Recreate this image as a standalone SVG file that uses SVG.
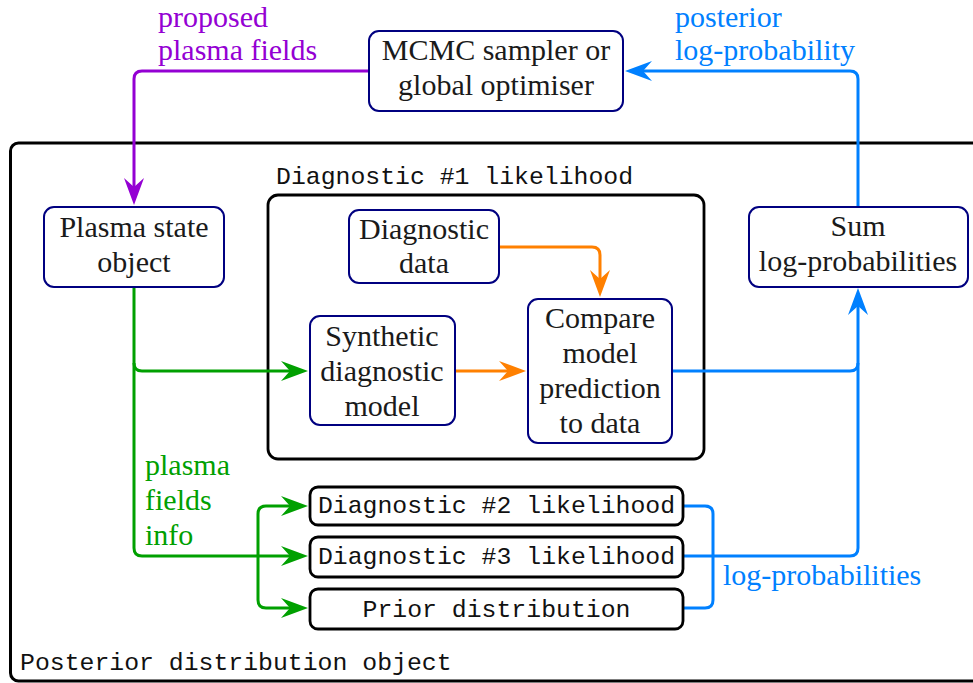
<svg xmlns="http://www.w3.org/2000/svg" width="973" height="683" viewBox="0 0 973 683">
<style>
.node{fill:#fff;stroke:#000080;stroke-width:2}
.box{fill:#fff;stroke:#000;stroke-width:2.8}
.t{font-size:30px;fill:#1a1a1a;text-anchor:middle}
.m{font-family:"Liberation Mono",monospace;font-size:24.8px;fill:#111}
.lbl{font-size:30px}
.c{fill:none;stroke-width:3;stroke-linejoin:round}
</style>
<defs>
<marker id="aP" markerUnits="userSpaceOnUse" orient="auto" refX="0" refY="0" markerWidth="40" markerHeight="40" overflow="visible"><path d="M8,0 L-19,-10 L-10,0 L-19,10 Z" fill="#9400D3"/></marker>
<marker id="aB" markerUnits="userSpaceOnUse" orient="auto" refX="0" refY="0" markerWidth="40" markerHeight="40" overflow="visible"><path d="M8,0 L-19,-10 L-10,0 L-19,10 Z" fill="#0080FF"/></marker>
<marker id="aO" markerUnits="userSpaceOnUse" orient="auto" refX="0" refY="0" markerWidth="40" markerHeight="40" overflow="visible"><path d="M8,0 L-19,-10 L-10,0 L-19,10 Z" fill="#FF8000"/></marker>
<marker id="aG" markerUnits="userSpaceOnUse" orient="auto" refX="0" refY="0" markerWidth="40" markerHeight="40" overflow="visible"><path d="M8,0 L-19,-10 L-10,0 L-19,10 Z" fill="#00A000"/></marker>
</defs>
<rect width="973" height="683" fill="#fff"/>

<g id="posterior">
<rect x="10.5" y="143" width="1000" height="538" rx="8" fill="none" stroke="#000" stroke-width="3"/>
<text class="m" x="20" y="670">Posterior distribution object</text>
</g>

<g id="diag1">
<rect class="box" x="268" y="195" width="436" height="264" rx="10"/>
<text class="m" x="276" y="184">Diagnostic #1 likelihood</text>
</g>

<g id="connectors">
<path class="c" stroke="#9400D3" d="M369,71 H142 Q134,71 134,79 V197" marker-end="url(#aP)"/>
<path class="c" stroke="#0080FF" d="M858,207 V79 Q858,71 850,71 H633" marker-end="url(#aB)"/>
<path class="c" stroke="#0080FF" d="M672,371 H850 Q858,371 858,363"/>
<path class="c" stroke="#0080FF" d="M683,556 H850 Q858,556 858,548 V296" marker-end="url(#aB)"/>
<path class="c" stroke="#0080FF" d="M683,506 H705 Q713,506 713,514 V600 Q713,608 705,608 H683"/>
<path class="c" stroke="#FF8000" d="M499,247 H592 Q600,247 600,255 V289" marker-end="url(#aO)"/>
<path class="c" stroke="#FF8000" d="M455,371 H518" marker-end="url(#aO)"/>
<path class="c" stroke="#00A000" d="M134,287 V548 Q134,556 142,556 H300" marker-end="url(#aG)"/>
<path class="c" stroke="#00A000" d="M134,363 Q134,371 142,371 H300" marker-end="url(#aG)"/>
<path class="c" stroke="#00A000" d="M258,556 V514 Q258,506 266,506 H300" marker-end="url(#aG)"/>
<path class="c" stroke="#00A000" d="M258,556 V600 Q258,608 266,608 H300" marker-end="url(#aG)"/>
<g font-family="Liberation Serif, serif">
<text class="lbl" fill="#9400D3" x="158" y="27">proposed</text>
<text class="lbl" fill="#9400D3" x="158" y="60">plasma fields</text>
<text class="lbl" fill="#0080FF" x="675" y="27">posterior</text>
<text class="lbl" fill="#0080FF" x="675" y="60">log-probability</text>
<text class="lbl" fill="#00A000" x="145" y="475">plasma</text>
<text class="lbl" fill="#00A000" x="145" y="510">fields</text>
<text class="lbl" fill="#00A000" x="145" y="545">info</text>
<text class="lbl" fill="#0080FF" x="723" y="585">log-probabilities</text>
</g>
</g>

<g id="mcmc" font-family="Liberation Serif, serif">
<rect class="node" x="369" y="31" width="254" height="80" rx="10"/>
<text class="t" x="496" y="60">MCMC sampler or</text>
<text class="t" x="496" y="95">global optimiser</text>
</g>

<g id="plasma" font-family="Liberation Serif, serif">
<rect class="node" x="44" y="207" width="180" height="80" rx="10"/>
<text class="t" x="134" y="237">Plasma state</text>
<text class="t" x="134" y="272">object</text>
</g>

<g id="data" font-family="Liberation Serif, serif">
<rect class="node" x="349" y="210" width="150" height="73" rx="10"/>
<text class="t" x="424" y="239">Diagnostic</text>
<text class="t" x="424" y="273">data</text>
</g>

<g id="synthetic" font-family="Liberation Serif, serif">
<rect class="node" x="310" y="316" width="145" height="109" rx="10"/>
<text class="t" x="382" y="346">Synthetic</text>
<text class="t" x="382" y="381">diagnostic</text>
<text class="t" x="382" y="416">model</text>
</g>

<g id="compare" font-family="Liberation Serif, serif">
<rect class="node" x="528" y="299" width="144" height="144" rx="10"/>
<text class="t" x="600" y="328">Compare</text>
<text class="t" x="600" y="363">model</text>
<text class="t" x="600" y="398">prediction</text>
<text class="t" x="600" y="433">to data</text>
</g>

<g id="sum" font-family="Liberation Serif, serif">
<rect class="node" x="749" y="207" width="219" height="80" rx="10"/>
<text class="t" x="858" y="236">Sum</text>
<text class="t" x="858" y="271">log-probabilities</text>
</g>

<g id="diag2">
<rect class="box" x="310" y="487" width="373" height="38" rx="8"/>
<text class="m" x="496.5" y="513" text-anchor="middle">Diagnostic #2 likelihood</text>
</g>

<g id="diag3">
<rect class="box" x="310" y="537" width="373" height="40" rx="8"/>
<text class="m" x="496.5" y="564" text-anchor="middle">Diagnostic #3 likelihood</text>
</g>

<g id="prior">
<rect class="box" x="310" y="589" width="373" height="40" rx="8"/>
<text class="m" x="496.5" y="617" text-anchor="middle">Prior distribution</text>
</g>
</svg>
